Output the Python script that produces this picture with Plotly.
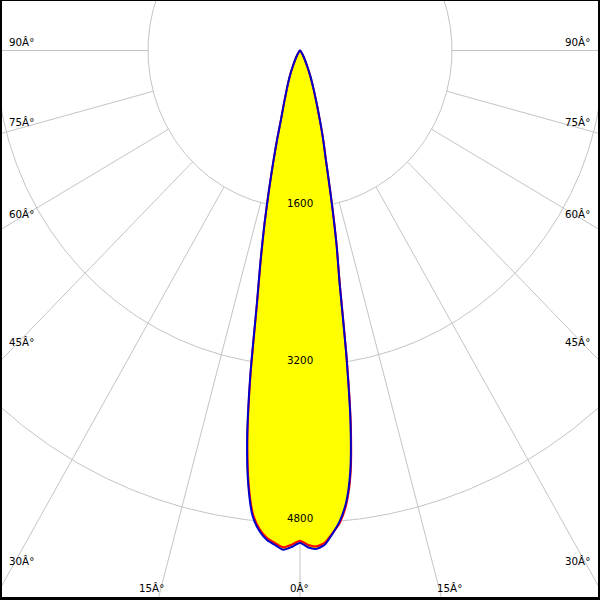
import numpy as np
import plotly.graph_objects as go

# ---- data ----
angles = [0, 1, 2, 3, 4, 5, 6, 7, 8, 9, 10, 11, 12, 13, 14, 15, 16, 17.5, 20, 22.5, 25, 30, 35, 40, 50, 60, 70, 80, 90]
blue_right = [5000, 5050, 5065, 5025, 4920, 4800, 4625, 4330, 3820, 3100, 2400, 2020, 1645, 1330, 1100, 950, 800, 620, 420, 290, 190, 85, 40, 20, 8, 4, 2, 1, 0]
blue_left = [5000, 5045, 5075, 5030, 4985, 4900, 4760, 4460, 4000, 3350, 2620, 2180, 1800, 1450, 1160, 920, 720, 560, 390, 280, 185, 85, 40, 20, 8, 4, 2, 1, 0]
red_right = [4980, 5025, 5040, 5005, 4915, 4815, 4645, 4355, 3845, 3120, 2415, 2030, 1655, 1335, 1105, 952, 800, 620, 420, 290, 190, 85, 40, 20, 8, 4, 2, 1, 0]
red_left = [4980, 5020, 5050, 5010, 4965, 4880, 4735, 4435, 3975, 3325, 2600, 2165, 1790, 1445, 1155, 918, 718, 558, 388, 279, 184, 85, 40, 20, 8, 4, 2, 1, 0]

ring_values = [1600, 3200, 4800]
ring_labels = ["1600", "3200", "4800"]
spoke_angles = [-90, -75, -60, -45, -30, -15, 0, 15, 30, 45, 60, 75, 90]
side_labels = ["90Â°", "75Â°", "60Â°", "45Â°", "30Â°"]
side_label_py = [41.5, 121.5, 214, 342, 560.5]
bottom_labels = ["15Â°", "0Â°", "15Â°"]
bottom_label_px = [151, 299, 449]

GRID = "#c4c4c4"
FONT = dict(family="DejaVu Sans", size=10.3, color="black")


def to_xy(theta_deg, r):
    t = np.radians(np.asarray(theta_deg, dtype=float))
    r = np.asarray(r, dtype=float)
    return r * np.sin(t), -r * np.cos(t)


def outline(left, right):
    th = [-a for a in reversed(angles)] + angles[1:]
    rr = list(reversed(left)) + right[1:]
    return to_xy(th, rr)


fig = go.Figure()

# grid circles
circ_t = np.linspace(0, 360, 721)
gx, gy = [], []
for rv in ring_values:
    x, y = to_xy(circ_t, np.full_like(circ_t, rv))
    gx += list(x) + [None]
    gy += list(y) + [None]
# spokes (outside first ring)
for a in spoke_angles:
    x, y = to_xy([a, a], [ring_values[0], 9000])
    gx += list(x) + [None]
    gy += list(y) + [None]
fig.add_trace(go.Scatter(x=gx, y=gy, mode="lines", line=dict(color=GRID, width=1),
                         hoverinfo="skip", showlegend=False))

bx, by = outline(blue_left, blue_right)
rx, ry = outline(red_left, red_right)

for xx, yy in [(bx, by), (rx, ry)]:
    fig.add_trace(go.Scatter(x=xx, y=yy, mode="lines", fill="toself", fillcolor="#ffff00",
                             line=dict(width=0, shape="spline", smoothing=0.6),
                             hoverinfo="skip", showlegend=False))

fig.add_trace(go.Scatter(x=rx, y=ry, mode="lines",
                         line=dict(color="#ff0000", width=2, shape="spline", smoothing=0.6),
                         hoverinfo="skip", showlegend=False))
fig.add_trace(go.Scatter(x=bx, y=by, mode="lines",
                         line=dict(color="#0000cc", width=2, shape="spline", smoothing=0.6),
                         hoverinfo="skip", showlegend=False))

annotations = []
for rv, lab in zip(ring_values, ring_labels):
    annotations.append(dict(x=0, y=-rv, xref="x", yref="y", text=lab, showarrow=False,
                            font=FONT, xanchor="center", yanchor="middle", yshift=5.5))
for lab, py in zip(side_labels, side_label_py):
    annotations.append(dict(x=7 / 600, y=1 - py / 600, xref="paper", yref="paper", text=lab,
                            showarrow=False, font=FONT, xanchor="left", yanchor="middle"))
    annotations.append(dict(x=592 / 600, y=1 - py / 600, xref="paper", yref="paper", text=lab,
                            showarrow=False, font=FONT, xanchor="right", yanchor="middle"))
for lab, px in zip(bottom_labels, bottom_label_px):
    annotations.append(dict(x=px / 600, y=1 - 588 / 600, xref="paper", yref="paper", text=lab,
                            showarrow=False, font=FONT, xanchor="center", yanchor="middle"))

shapes = [
    dict(type="rect", xref="paper", yref="paper", x0=0, x1=2 / 600, y0=0, y1=1, fillcolor="black", line=dict(width=0)),
    dict(type="rect", xref="paper", yref="paper", x0=598 / 600, x1=1, y0=0, y1=1, fillcolor="black", line=dict(width=0)),
    dict(type="rect", xref="paper", yref="paper", x0=0, x1=1, y0=1 - 1 / 600, y1=1, fillcolor="black", line=dict(width=0)),
    dict(type="rect", xref="paper", yref="paper", x0=0, x1=1, y0=0, y1=3 / 600, fillcolor="black", line=dict(width=0)),
]

sx = 152 / 1600.0
sy = 157.5 / 1600.0
fig.update_layout(
    width=600, height=600,
    margin=dict(l=0, r=0, t=0, b=0),
    paper_bgcolor="white", plot_bgcolor="white",
    xaxis=dict(range=[-300 / sx, 300 / sx], visible=False, fixedrange=True),
    yaxis=dict(range=[-549.5 / sy, 50.5 / sy], visible=False, fixedrange=True),
    annotations=annotations, shapes=shapes, showlegend=False,
)

fig.write_html("out.html", config={"displayModeBar": False},
               post_script="document.body.style.margin='0';document.body.style.overflow='hidden';")
